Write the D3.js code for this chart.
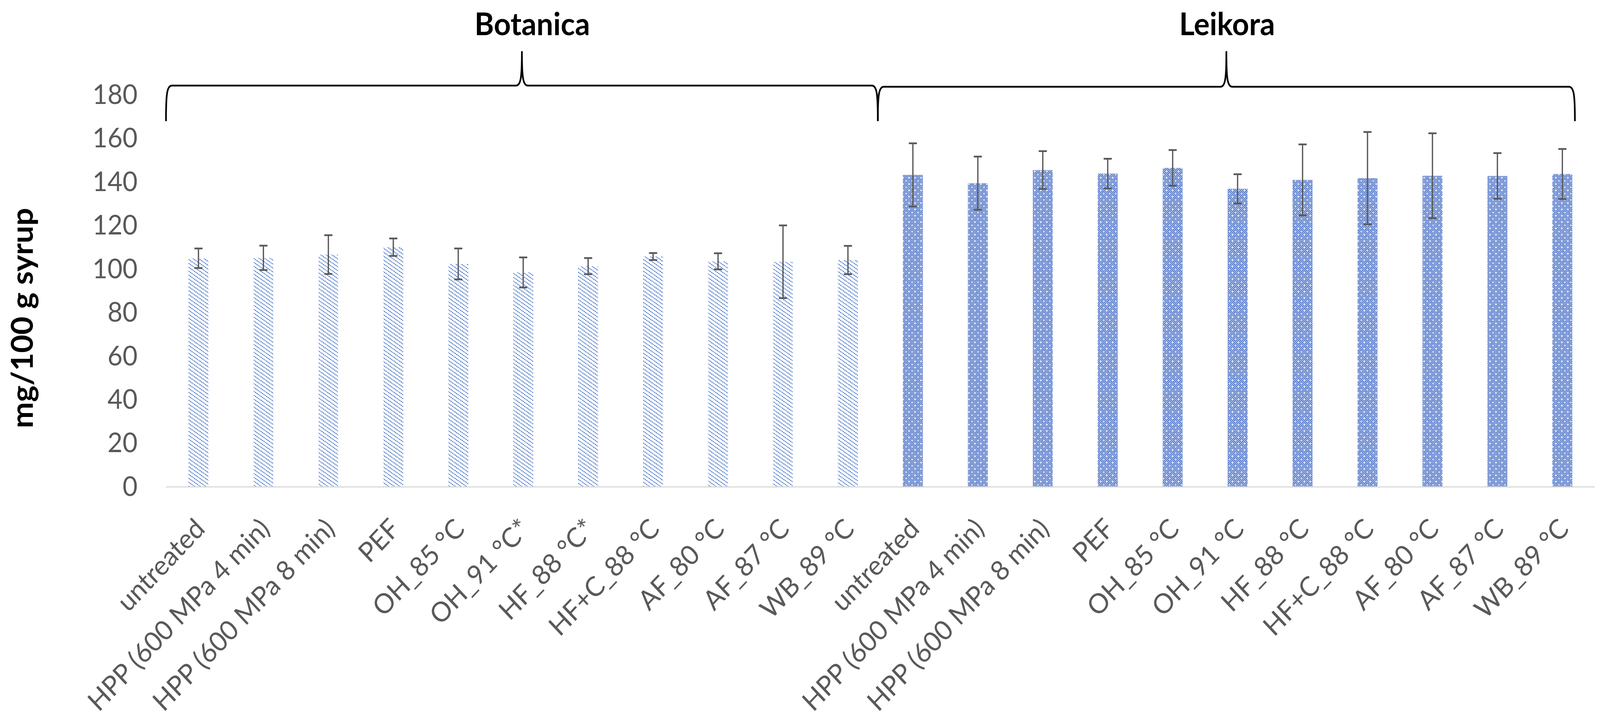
<!DOCTYPE html>
<html>
<head>
<meta charset="utf-8">
<script src="https://cdn.jsdelivr.net/npm/d3@7"></script>
<style>
  html, body { margin: 0; padding: 0; width: 100%; height: 100%; background: #fff; overflow: hidden; }
  #wrapper { width: 100%; height: 100%; }
  svg { display: block; }
</style>
</head>
<body>
<div id="wrapper"></div>
<script>
// values
const treatments = ["untreated", "HPP (600 MPa 4 min)", "HPP (600 MPa 8 min)", "PEF", "OH_85 °C",
  "OH_91 °C*", "HF_88 °C*", "HF+C_88 °C", "AF_80 °C", "AF_87 °C", "WB_89 °C"]
const treatmentsLeikora = ["untreated", "HPP (600 MPa 4 min)", "HPP (600 MPa 8 min)", "PEF", "OH_85 °C",
  "OH_91 °C", "HF_88 °C", "HF+C_88 °C", "AF_80 °C", "AF_87 °C", "WB_89 °C"]
const groups = ["Botanica", "Leikora"]
const botanicaMean = [105.0, 105.2, 106.7, 110.1, 102.4, 98.5, 101.4, 105.8, 103.6, 103.4, 104.2]
const botanicaErr  = [4.5, 5.6, 8.9, 4.0, 7.1, 6.9, 3.7, 1.6, 3.7, 16.7, 6.5]
const leikoraMean  = [143.3, 139.5, 145.5, 143.9, 146.5, 136.9, 141.0, 141.8, 142.9, 142.8, 143.7]
const leikoraErr   = [14.5, 12.2, 8.7, 6.8, 8.2, 6.7, 16.3, 21.2, 19.5, 10.5, 11.5]
const yTicks = [0, 20, 40, 60, 80, 100, 120, 140, 160, 180]
const yTitle = "mg/100 g syrup"

function drawChart() {
  let dimensions = {
    width: 4328,
    height: 1845,
    margin: { top: 243, right: 14, bottom: 599, left: 449 }
  }
  dimensions.boundedWidth = dimensions.width - dimensions.margin.left - dimensions.margin.right
  dimensions.boundedHeight = dimensions.height - dimensions.margin.top - dimensions.margin.bottom

  // one row per bar
  const data = []
  treatments.forEach((t, i) => data.push({ key: "B" + i, label: t, group: 0, value: botanicaMean[i], err: botanicaErr[i] }))
  treatmentsLeikora.forEach((t, i) => data.push({ key: "L" + i, label: t, group: 1, value: leikoraMean[i], err: leikoraErr[i] }))

  // viewBox so the drawing always fills the window whatever its css size
  const svg = d3.select("#wrapper")
    .append("svg")
    .attr("viewBox", `0 0 ${dimensions.width} ${dimensions.height}`)
    .attr("preserveAspectRatio", "none")
    .attr("width", "100%")
    .attr("height", "100%")

  const defs = svg.append("defs")
  // Botanica: dotted downward diagonal stripes
  const p1 = defs.append("pattern")
    .attr("id", "stripes")
    .attr("patternUnits", "userSpaceOnUse")
    .attr("width", 15).attr("height", 10)
  p1.append("path")
    .attr("d", "M-3,-2 L18,12 M-3,8 L3,12 M12,-2 L18,2")
    .attr("stroke", "#4472c4")
    .attr("stroke-width", 2.6)
    .attr("stroke-dasharray", "3.2,1.6")
  // Leikora: blue checker with white specks
  const cell = 2.7
  const p2 = defs.append("pattern")
    .attr("id", "checker")
    .attr("patternUnits", "userSpaceOnUse")
    .attr("width", cell * 6).attr("height", cell * 6)
  p2.append("rect").attr("width", cell * 6).attr("height", cell * 6).attr("fill", "#e6ecf8")
  for (let i = 0; i < 6; i++) {
    for (let j = 0; j < 6; j++) {
      if ((i + j) % 2 == 0) {
        p2.append("rect")
          .attr("x", i * cell - 0.25).attr("y", j * cell - 0.25)
          .attr("width", cell + 0.5).attr("height", cell + 0.5)
          .attr("fill", "#4a70c6")
      }
    }
  }
  p2.append("rect").attr("x", 0).attr("y", 0).attr("width", cell).attr("height", cell).attr("fill", "#fff")
  p2.append("rect").attr("x", cell * 3).attr("y", cell * 3).attr("width", cell).attr("height", cell).attr("fill", "#fff")

  const bounds = svg.append("g")
    .attr("transform", `translate(${dimensions.margin.left},${dimensions.margin.top})`)

  const xScaler = d3.scaleBand()
    .domain(data.map(d => d.key))
    .range([0, dimensions.boundedWidth])
    .paddingInner(0.693)
    .paddingOuter(0.3465)

  const yScaler = d3.scaleLinear()
    .domain([0, 180])
    .range([dimensions.boundedHeight, 0])

  const step = xScaler.step()
  const bw = xScaler.bandwidth()

  // y axis, labels only
  const yAxisGen = d3.axisLeft(yScaler)
    .tickValues(yTicks)
    .tickSize(0)
    .tickPadding(77)
  const yAxis = bounds.append("g").call(yAxisGen)
  yAxis.select(".domain").remove()
  yAxis.selectAll("text")
    .attr("font-family", "Lato, sans-serif")
    .attr("font-size", 70)
    .attr("fill", "#595959")

  // bars
  bounds.selectAll(".bar")
    .data(data)
    .enter()
    .append("rect")
      .attr("class", "bar")
      .attr("x", d => xScaler(d.key))
      .attr("y", d => yScaler(d.value))
      .attr("width", bw)
      .attr("height", d => dimensions.boundedHeight - yScaler(d.value))
      .attr("fill", d => d.group == 0 ? "url(#stripes)" : "url(#checker)")

  // baseline
  bounds.append("line")
    .attr("x1", 0).attr("x2", dimensions.boundedWidth)
    .attr("y1", dimensions.boundedHeight).attr("y2", dimensions.boundedHeight)
    .attr("stroke", "#d9d9d9")
    .attr("stroke-width", 3)

  // error bars
  const errs = bounds.selectAll(".err")
    .data(data)
    .enter()
    .append("g")
      .attr("class", "err")
      .attr("transform", d => `translate(${xScaler(d.key) + bw / 2},0)`)
      .attr("stroke", "#595959")
  errs.append("line")
    .attr("y1", d => yScaler(d.value + d.err))
    .attr("y2", d => yScaler(d.value - d.err))
    .attr("stroke-width", 3.5)
  errs.append("line")
    .attr("x1", -11).attr("x2", 11)
    .attr("y1", d => yScaler(d.value + d.err))
    .attr("y2", d => yScaler(d.value + d.err))
    .attr("stroke-width", 4.5)
  errs.append("line")
    .attr("x1", -11).attr("x2", 11)
    .attr("y1", d => yScaler(d.value - d.err))
    .attr("y2", d => yScaler(d.value - d.err))
    .attr("stroke-width", 4.5)

  // category labels, rotated
  bounds.selectAll(".xlabel")
    .data(data)
    .enter()
    .append("text")
      .attr("class", "xlabel")
      .attr("transform", d => `translate(${xScaler(d.key) + bw / 2 + 4},${dimensions.boundedHeight + 94}) rotate(-45)`)
      .attr("text-anchor", "end")
      .attr("dy", "0.35em")
      .attr("font-family", "Lato, sans-serif")
      .attr("font-size", 70)
      .attr("fill", "#595959")
      .text(d => d.label)

  // y title
  svg.append("text")
    .attr("transform", "translate(61,814) rotate(-90)")
    .attr("text-anchor", "middle")
    .attr("dy", "0.35em")
    .attr("font-family", "Lato, sans-serif")
    .attr("font-weight", "bold")
    .attr("font-size", 80)
    .attr("fill", "#000")
    .text(yTitle)

  // curly braces over each group
  function brace(x0, x1, yEnd, yLine, yTip) {
    const m = (x0 + x1) / 2
    return `M${x0},${yEnd} C${x0},${yLine + 25} ${x0 + 2},${yLine} ${x0 + 16},${yLine}` +
      ` L${m - 16},${yLine} C${m - 3},${yLine} ${m},${yLine - 20} ${m},${yTip}` +
      ` C${m},${yLine - 20} ${m + 3},${yLine} ${m + 16},${yLine}` +
      ` L${x1 - 16},${yLine} C${x1 - 2},${yLine} ${x1},${yLine + 25} ${x1},${yEnd}`
  }
  const top = -dimensions.margin.top
  const braceEnds = [
    [xScaler("B0") - step * 0.3465, xScaler("B10") + bw + step * 0.3465 - 7],
    [xScaler("L0") - step * 0.3465 - 7, xScaler("L10") + bw + 7]
  ]
  groups.forEach((g, i) => {
    const [x0, x1] = braceEnds[i]
    bounds.append("path")
      .attr("d", brace(x0, x1, top + 310, top + 219 + i * 3, top + 131))
      .attr("fill", "none")
      .attr("stroke", "#000")
      .attr("stroke-width", 4.5)
    bounds.append("text")
      .attr("x", (x0 + x1) / 2 + (i == 0 ? 28 : 2))
      .attr("y", top + 90)
      .attr("text-anchor", "middle")
      .attr("font-family", "Lato, sans-serif")
      .attr("font-weight", "bold")
      .attr("font-size", 80)
      .attr("fill", "#000")
      .text(g)
  })
}

drawChart()
</script>
</body>
</html>
